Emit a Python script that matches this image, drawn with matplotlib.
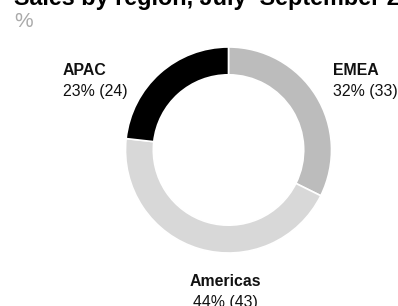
import matplotlib
matplotlib.use("Agg")
from matplotlib import pyplot as plt

plt.rcParams['font.family'] = ['Liberation Sans', 'DejaVu Sans']

# dane
regions = ["EMEA", "Americas", "APAC"]
shares = [32, 44, 23]
previous = [33, 43, 24]
colors = ["#bcbcbc", "#d8d8d8", "#000000"]

W, H = 398, 306
fig = plt.figure(figsize=(W / 100, H / 100), dpi=100)

# os z wykresem kolowym, srodek ~ (228.5, 150) px, promien ~ 103 px
cx, cy, r = 228.5, 150, 103
ax = fig.add_axes([(cx - r) / W, (H - cy - r) / H, 2 * r / W, 2 * r / H])
ax.pie(shares, colors=colors, startangle=90, counterclock=False,
       wedgeprops=dict(width=0.27, edgecolor="white", linewidth=1.2))
ax.set_xlim(-1, 1)
ax.set_ylim(-1, 1)
ax.set_aspect("equal")


def px(x, y):
    return x / W, 1 - y / H


# tytul (przyciety u gory jak w oryginale)
fig.text(*px(14, 5), "Sales by region, July\u2013September 2023", fontsize=16.8,
         fontweight="bold", color="black", ha="left", va="baseline")
fig.text(*px(14, 27), "%", fontsize=15, color="#aaaaaa", ha="left",
         va="baseline")

# etykiety
label_pos = {
    "EMEA": (333, 75, "left"),
    "Americas": (225, 286, "center"),
    "APAC": (63, 75, "left"),
}
for name, s, p in zip(regions, shares, previous):
    x, y, ha = label_pos[name]
    fig.text(*px(x, y), name, fontsize=11.4, fontweight="bold",
             color="#111111", ha=ha, va="baseline")
    fig.text(*px(x, y + 21), f"{s}% ({p})", fontsize=11.4,
             color="#111111", ha=ha, va="baseline")

fig.savefig("out.png", dpi=100)
